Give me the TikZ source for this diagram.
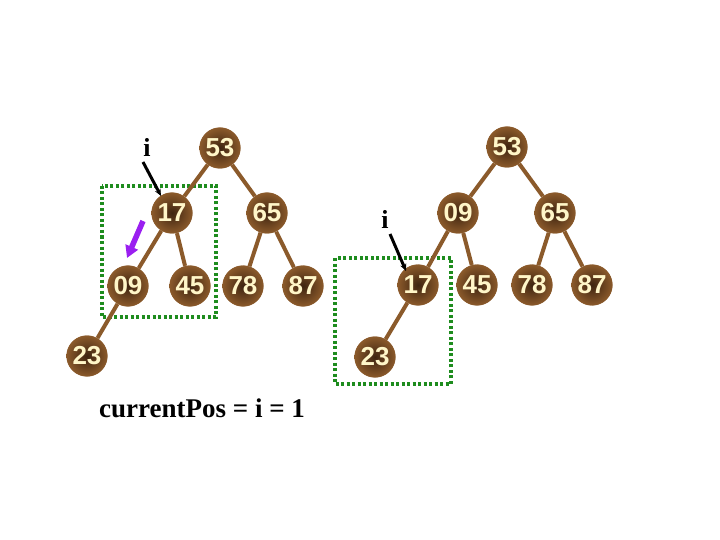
\documentclass[tikz,border=0pt]{standalone}
\usepackage{fontspec}
\setmainfont{Liberation Serif}
\newfontfamily\numfont{Liberation Sans}
\usetikzlibrary{arrows.meta}
\definecolor{edgebrown}{HTML}{8B5A2B}
\definecolor{darkbrown}{HTML}{3E2410}
\definecolor{numtext}{HTML}{FFF6C8}
\definecolor{boxgreen}{HTML}{1E8C1E}
\definecolor{violetarrow}{HTML}{9A1FF0}
\tikzset{
  heapnode/.style={circle, minimum size=41bp, inner sep=0pt,
    shading=radial, inner color=darkbrown, outer color=edgebrown,
    text=numtext, font=\numfont\bfseries\fontsize{26bp}{26bp}\selectfont},
  treeedge/.style={draw=edgebrown, line width=4bp},
  selbox/.style={draw=boxgreen, line width=3.5bp, dash pattern=on 3bp off 2.5bp},
  ilabel/.style={font=\bfseries\fontsize{26bp}{26bp}\selectfont, inner sep=0pt},
  ptrarrow/.style={line width=3bp, -{Stealth[length=7bp,width=6bp]}},
}
\begin{document}
\begin{tikzpicture}[x=1bp,y=-1bp]
\useasboundingbox (0,0) rectangle (720,540);
% left tree
\draw[selbox] (102,186) rectangle (216,317);
\node[heapnode] (a53) at (220,148) {};
\node[heapnode] (a17) at (172,213) {};
\node[heapnode] (a65) at (267,213) {};
\node[heapnode] (a09) at (128,286) {};
\node[heapnode] (a45) at (190,286) {};
\node[heapnode] (a78) at (243,286) {};
\node[heapnode] (a87) at (303,286) {};
\node[heapnode] (a23) at (87,356) {};
\draw[treeedge] (a53) -- (a17);
\draw[treeedge] (a53) -- (a65);
\draw[treeedge] (a17) -- (a09);
\draw[treeedge] (a17) -- (a45);
\draw[treeedge] (a65) -- (a78);
\draw[treeedge] (a65) -- (a87);
\draw[treeedge] (a09) -- (a23);
\foreach \n/\t in {a53/53,a17/17,a65/65,a09/09,a45/45,a78/78,a87/87,a23/23}{
  \node[heapnode] at (\n) {\t};
}
\node[ilabel] (ia) at (147,147) {i};
\coordinate (iat) at (143,162);
\coordinate (iah) at (161,196);
\draw[ptrarrow] (iat) -- (iah);
\coordinate (pt) at (143,221);
\coordinate (ph) at (127,258);
\draw[draw=violetarrow, line width=5.5bp, -{Triangle[length=12bp,width=13bp]}] (pt) -- (ph);
% right tree
\draw[selbox] (335,258) rectangle (451,384);
\node[heapnode] (b53) at (507,147) {};
\node[heapnode] (b09) at (458,213) {};
\node[heapnode] (b65) at (555,213) {};
\node[heapnode] (b17) at (418,285) {};
\node[heapnode] (b45) at (477,285) {};
\node[heapnode] (b78) at (532,285) {};
\node[heapnode] (b87) at (592,285) {};
\node[heapnode] (b23) at (375,357) {};
\draw[treeedge] (b53) -- (b09);
\draw[treeedge] (b53) -- (b65);
\draw[treeedge] (b09) -- (b17);
\draw[treeedge] (b09) -- (b45);
\draw[treeedge] (b65) -- (b78);
\draw[treeedge] (b65) -- (b87);
\draw[treeedge] (b17) -- (b23);
\foreach \n/\t in {b53/53,b09/09,b65/65,b17/17,b45/45,b78/78,b87/87,b23/23}{
  \node[heapnode] at (\n) {\t};
}
\node[ilabel] (ib) at (385,219) {i};
\coordinate (ibt) at (390,234);
\coordinate (ibh) at (406,271);
\draw[ptrarrow] (ibt) -- (ibh);
% caption
\node[anchor=west, inner sep=0pt, font=\bfseries\fontsize{27bp}{27bp}\selectfont] (cap) at (99,408) {currentPos = i = 1};
\end{tikzpicture}
\end{document}
